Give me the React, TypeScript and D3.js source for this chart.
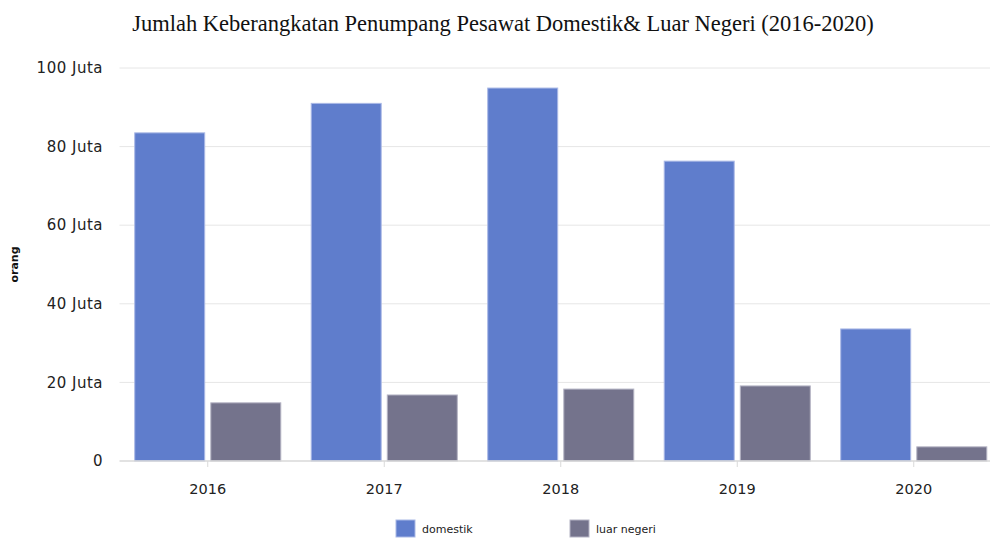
import React from "react";
import * as d3 from "d3";

const years = ["2016", "2017", "2018", "2019", "2020"];
const domestik = [83.5, 91.0, 94.9, 76.3, 33.6];
const luarNegeri = [14.8, 16.8, 18.3, 19.1, 3.6];
const seriesNames = ["domestik", "luar negeri"];
const yTicks = [0, 20, 40, 60, 80, 100];

const colors = ["#5f7dcc", "#74738c"];
const strokes = ["#aab9e6", "#b4b3c4"];

const W = 990;
const H = 540;
const margin = { top: 68, left: 119.5, bottom: 79 };
const plotRight = 1002;

export default function App() {
  const x = d3.scaleBand<string>().domain(years).range([margin.left, plotRight]);
  const x1 = d3
    .scaleBand<string>()
    .domain(seriesNames)
    .range([0, x.bandwidth()])
    .paddingOuter(0.2)
    .paddingInner(0.08);
  const y = d3.scaleLinear().domain([0, 100]).range([H - margin.bottom, margin.top]);

  const rows = years.map((yr, i) => ({ yr, vals: [domestik[i], luarNegeri[i]] }));
  const sans = "Verdana, 'DejaVu Sans', sans-serif";

  return (
    <svg width={W} height={H} style={{ position: "absolute", left: 0, top: 0 }}>
      <rect width={W} height={H} fill="#fff" />
      <text
        x={503}
        y={31}
        textAnchor="middle"
        fontFamily="'Liberation Serif', 'Times New Roman', serif"
        fontSize={22.5}
        fill="#111"
      >
        Jumlah Keberangkatan Penumpang Pesawat Domestik&amp; Luar Negeri (2016-2020)
      </text>

      {yTicks.map((t) => (
        <g key={t}>
          {t > 0 && (
            <line x1={margin.left} x2={W} y1={y(t)} y2={y(t)} stroke="#e6e6e6" strokeWidth={1} />
          )}
          <text
            x={103}
            y={y(t)}
            dy="0.35em"
            textAnchor="end"
            fontFamily={sans}
            fontSize={15}
            letterSpacing={0.5}
            fill="#222"
          >
            {t === 0 ? "0" : `${t} Juta`}
          </text>
        </g>
      ))}

      <text
        transform={`translate(18,${(y(0) + y(100)) / 2}) rotate(-90)`}
        textAnchor="middle"
        fontFamily={sans}
        fontSize={11}
        fontWeight="bold"
        fill="#111"
      >
        orang
      </text>

      {rows.map((r) => (
        <g key={r.yr} transform={`translate(${x(r.yr)},0)`}>
          {r.vals.map((v, j) => (
            <rect
              key={j}
              x={x1(seriesNames[j])}
              y={y(v)}
              width={x1.bandwidth()}
              height={y(0) - y(v)}
              fill={colors[j]}
              stroke={strokes[j]}
              strokeWidth={1}
            />
          ))}
        </g>
      ))}

      <line x1={margin.left} x2={W} y1={y(0)} y2={y(0)} stroke="#d9d9d9" strokeWidth={1.5} />
      {years.map((yr) => {
        const cx = (x(yr) ?? 0) + x.bandwidth() / 2;
        return (
          <g key={yr}>
            <line x1={cx} x2={cx} y1={y(0)} y2={y(0) + 6} stroke="#d9d9d9" />
            <text
              x={cx}
              y={494}
              textAnchor="middle"
              fontFamily={sans}
              fontSize={14.5}
              fill="#222"
            >
              {yr}
            </text>
          </g>
        );
      })}

      {seriesNames.map((s, i) => {
        const lx = 396 + i * 174;
        return (
          <g key={s}>
            <rect x={lx} y={520} width={19} height={17} fill={colors[i]} stroke={strokes[i]} />
            <text x={lx + 26} y={533} fontFamily={sans} fontSize={11} fill="#222">
              {s}
            </text>
          </g>
        );
      })}
    </svg>
  );
}
